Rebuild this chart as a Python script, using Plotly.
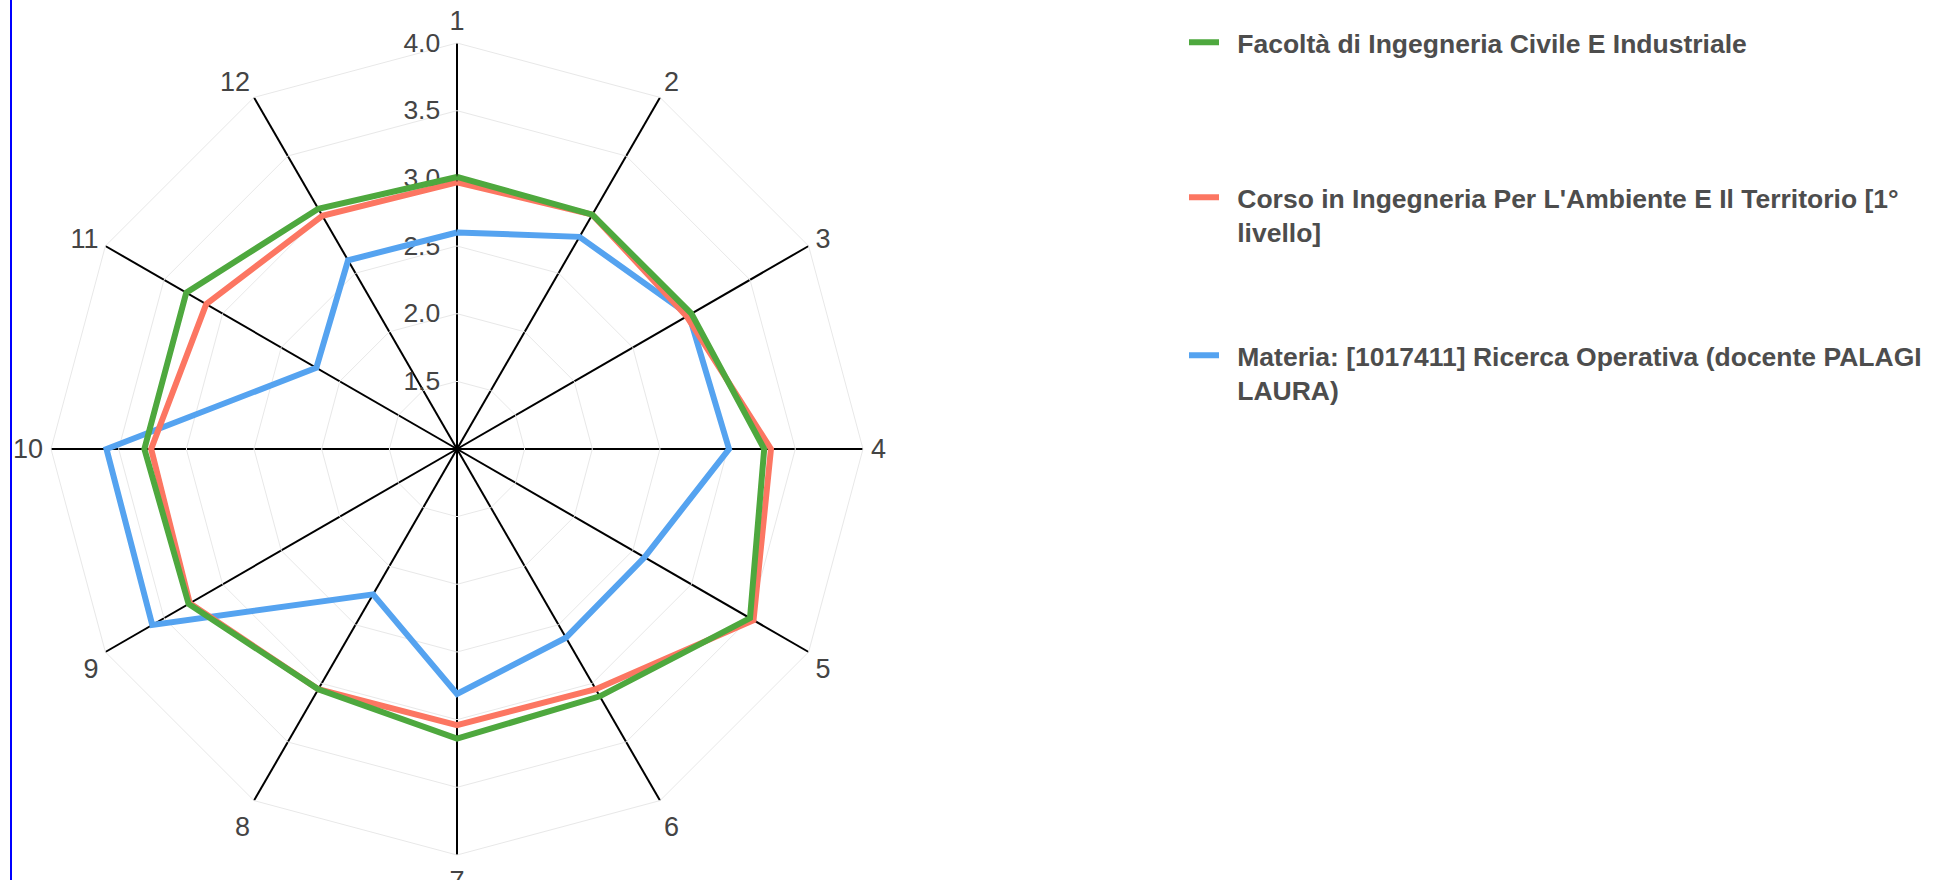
import plotly.graph_objects as go

categories = ["1", "2", "3", "4", "5", "6", "7", "8", "9", "10", "11", "12"]

facolta_name = "\u2002Facoltà di Ingegneria Civile E Industriale"
facolta_values = [3.01, 3.00, 3.00, 3.27, 3.50, 3.11, 3.14, 3.05, 3.29, 3.31, 3.31, 3.05]

corso_name = "\u2002Corso in Ingegneria Per L'Ambiente E Il Territorio [1°<br>\u2002livello]"
corso_values = [2.97, 3.00, 2.96, 3.32, 3.53, 3.05, 3.04, 3.05, 3.28, 3.26, 3.14, 2.99]

materia_name = "\u2002Materia: [1017411] Ricerca Operativa (docente PALAGI<br>\u2002LAURA)"
materia_values = [2.60, 2.81, 2.98, 3.01, 2.60, 2.61, 2.81, 2.24, 3.60, 3.59, 2.20, 2.61]

radial_ticks = [1.5, 2.0, 2.5, 3.0, 3.5, 4.0]

W, H = 1936, 880
cx, cy, R = 457, 449, 406

# drawn bottom to top: blue, red, green; each has its own legend box
series = [
    (materia_name, materia_values, "#55a3f0", "legend3", 331.5),
    (corso_name, corso_values, "#fc7662", "legend2", 173.5),
    (facolta_name, facolta_values, "#4ea83e", "legend", 18.5),
]

fig = go.Figure()
legends = {}
for name, vals, color, leg, ytop in series:
    fig.add_trace(go.Scatterpolar(
        r=vals + vals[:1],
        theta=categories + categories[:1],
        mode="lines",
        name=name,
        legend=leg,
        showlegend=True,
        line=dict(color=color, width=6),
    ))
    legends[leg] = dict(
        x=1184 / W, y=1 - ytop / H,
        xanchor="left", yanchor="top",
        valign="top",
        font=dict(size=26.5, color="#4d4d4d", family="Liberation Sans, Arial, sans-serif", weight="bold"),
        bgcolor="rgba(0,0,0,0)",
    )

fig.update_layout(
    width=W, height=H,
    margin=dict(l=0, r=0, t=0, b=0),
    showlegend=True,
    paper_bgcolor="white",
    plot_bgcolor="white",
    font=dict(family="Liberation Sans, Arial, sans-serif", color="#444444"),
    polar=dict(
        domain=dict(x=[(cx - R) / W, (cx + R) / W], y=[1 - (cy + R) / H, 1 - (cy - R) / H]),
        bgcolor="white",
        gridshape="linear",
        angularaxis=dict(
            type="category",
            categoryarray=categories,
            direction="clockwise",
            rotation=90,
            showgrid=True,
            gridcolor="black",
            gridwidth=2,
            showline=True,
            linecolor="#e8e8e8",
            linewidth=1,
            ticks="outside",
            ticklen=2,
            tickcolor="rgba(0,0,0,0)",
            layer="below traces",
            tickfont=dict(size=27, color="#444444"),
        ),
        radialaxis=dict(
            range=[1, 4],
            angle=90,
            side="counterclockwise",
            tickvals=radial_ticks,
            ticktext=[f"{v:.1f}" for v in radial_ticks],
            showgrid=True,
            gridcolor="#e8e8e8",
            gridwidth=1,
            showline=False,
            ticks="outside",
            ticklen=7,
            tickcolor="rgba(0,0,0,0)",
            tickangle=90,
            layer="below traces",
            tickfont=dict(size=26.5, color="#444444"),
        ),
    ),
    **legends,
    shapes=[dict(type="line", xref="paper", yref="paper", x0=11 / W, x1=11 / W, y0=0, y1=1,
                 line=dict(color="blue", width=2))],
)

# the page is exactly the figure: no default body margin around it
fig.write_html(
    "out.html",
    config={"displayModeBar": False},
    post_script="document.body.style.margin='0px';document.body.style.overflow='hidden';",
)
